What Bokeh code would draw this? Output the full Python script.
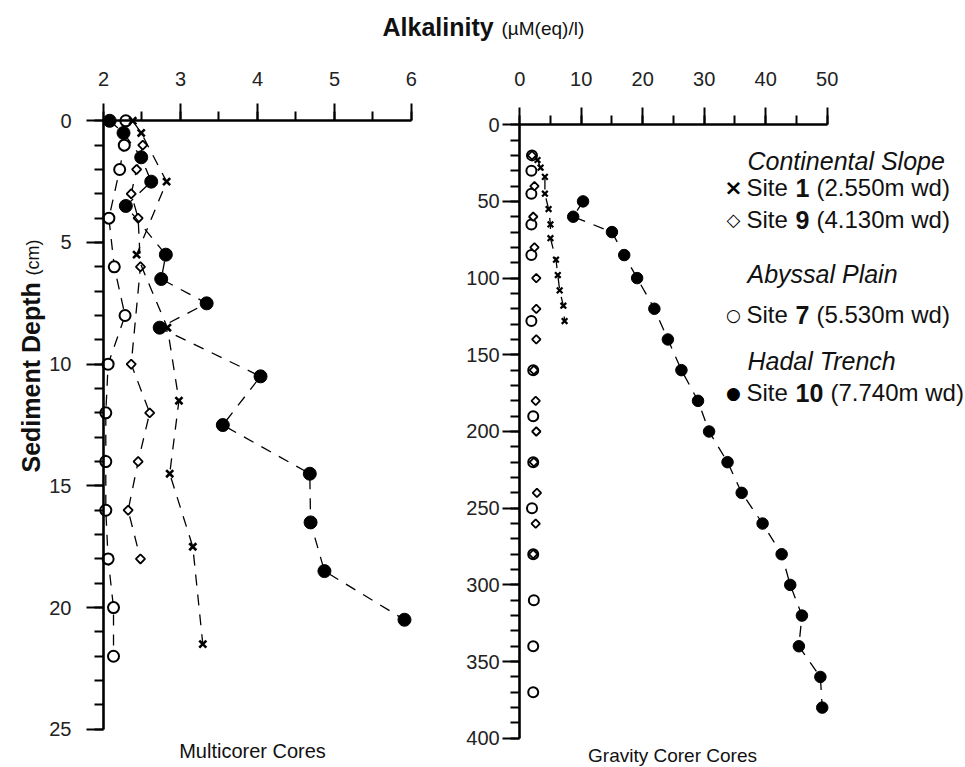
import math
from bokeh.plotting import figure
from bokeh.models import Range1d, Label, SingleIntervalTicker
from bokeh.layouts import column, row
from bokeh.embed import file_html
from bokeh.resources import INLINE

# ---------------- data: Multicorer cores (depth in cm, alkalinity) ----------------
mc_site1_depth = [0, 0.5, 2.5, 5.5, 8.5, 11.5, 14.5, 17.5, 21.5]
mc_site1_alk = [2.38, 2.49, 2.82, 2.43, 2.83, 2.98, 2.86, 3.16, 3.29]

mc_site9_depth = [1, 2, 3, 4, 6, 10, 12, 14, 16, 18]
mc_site9_alk = [2.51, 2.43, 2.36, 2.45, 2.48, 2.36, 2.60, 2.45, 2.32, 2.48]

mc_site7_depth = [0, 1, 2, 4, 6, 8, 10, 12, 14, 16, 18, 20, 22]
mc_site7_alk = [2.29, 2.27, 2.21, 2.07, 2.14, 2.28, 2.06, 2.03, 2.03, 2.03, 2.06, 2.13, 2.13]

mc_site10_depth = [0, 0.5, 1.5, 2.5, 3.5, 5.5, 6.5, 7.5, 8.5, 10.5, 12.5, 14.5, 16.5, 18.5, 20.5]
mc_site10_alk = [2.08, 2.26, 2.49, 2.62, 2.29, 2.81, 2.75, 3.34, 2.73, 4.04, 3.55, 4.68, 4.69, 4.87, 5.91]

# ---------------- data: Gravity corer cores (depth in cm, alkalinity) ----------------
gc_site1_depth = [23, 28, 34, 45, 55, 65, 74, 88, 98, 108, 118, 128]
gc_site1_alk = [2.9, 3.4, 4.1, 4.1, 4.7, 5.0, 5.0, 5.9, 6.2, 6.5, 7.1, 7.3]

gc_site9_depth = [20, 40, 60, 80, 100, 120, 140, 160, 180, 200, 220, 240, 260, 280]
gc_site9_alk = [2.0, 2.4, 2.2, 2.4, 2.7, 2.7, 2.7, 2.3, 2.6, 2.7, 2.3, 2.8, 2.6, 2.2]

gc_site7_depth = [20, 30, 45, 65, 85, 128, 160, 190, 220, 250, 280, 310, 340, 370]
gc_site7_alk = [2.0, 1.9, 1.9, 1.9, 1.9, 1.9, 2.2, 2.2, 2.2, 2.0, 2.2, 2.3, 2.2, 2.2]

gc_site10_depth = [50, 60, 70, 85, 100, 120, 140, 160, 180, 200, 220, 240, 260, 280, 300, 320, 340, 360, 380]
gc_site10_alk = [10.3, 8.7, 15.0, 17.0, 19.1, 21.9, 24.1, 26.3, 29.0, 30.8, 33.8, 36.1, 39.5, 42.6, 44.0, 45.9, 45.4, 48.9, 49.2]

# ---------------- texts ----------------
title_main = "Alkalinity"
title_unit = "(\u00b5M(eq)/l)"
ylabel_main = "Sediment Depth"
ylabel_unit = "(cm)"
left_caption = "Multicorer Cores"
right_caption = "Gravity Corer Cores"
legend_groups = [("Continental Slope", [("\u00d7", "1", "(2.550m wd)"), ("\u25c7", "9", "(4.130m wd)")]),
                 ("Abyssal Plain", [("\u25cb", "7", "(5.530m wd)")]),
                 ("Hadal Trench", [("\u25cf", "10", "(7.740m wd)")])]

FONT = "Liberation Sans"
INK = "#111111"


def style_axes(p, xb, yb, xt, yt, xstand, ystand):
    for ax in (p.xaxis[0], p.yaxis[0]):
        ax.axis_line_width = 2.6
        ax.axis_line_color = "black"
        ax.major_tick_line_width = 2
        ax.minor_tick_line_width = 2
        ax.major_tick_line_color = "black"
        ax.minor_tick_line_color = "black"
        ax.major_tick_in = 0
        ax.minor_tick_in = 0
        ax.major_tick_out = 17
        ax.minor_tick_out = 9
        ax.major_label_text_font = FONT
        ax.major_label_text_font_size = "20px"
        ax.major_label_text_color = "#222222"
    p.xaxis[0].ticker = xt
    p.yaxis[0].ticker = yt
    p.xaxis[0].bounds = xb
    p.yaxis[0].bounds = yb
    p.xaxis[0].fixed_location = yb[0]
    p.yaxis[0].fixed_location = xb[0]
    p.xaxis[0].major_label_standoff = xstand
    p.yaxis[0].major_label_standoff = ystand
    p.grid.visible = False
    p.outline_line_color = None


def series(p, x, y, marker, size, fill, lw, dashed=True):
    if dashed:
        p.line(x, y, line_color="black", line_width=1.3, line_dash="11 9")
    kw = dict(marker=marker, size=size, line_color="black", line_width=lw,
              fill_color=fill)
    if marker == "square":
        kw["angle"] = math.pi / 4
    p.scatter(x, y, **kw)


def text(p, x, y, s, size, style="normal", align="left", angle=0.0, font=FONT, color=INK):
    # (x, y) is the centre line of the capitals (text_baseline="middle")
    p.add_layout(Label(x=x, y=y, text=s, text_font=font, text_font_size=size,
                       text_font_style=style, text_align=align, text_baseline="middle",
                       angle=angle, text_color=color))


# ---------------- title strip ----------------
pt = figure(width=965, height=50, x_range=Range1d(0, 965), y_range=Range1d(50, 0),
            output_backend="svg", toolbar_location=None,
            x_axis_location=None, y_axis_location=None, min_border=0)
pt.outline_line_color = None
pt.grid.visible = False
text(pt, 382, 26, title_main, "25px", style="bold")
text(pt, 501, 28, title_unit, "19px")

# ---------------- left panel (Multicorer) ----------------
LX0, LPX = 0.662, 76.98          # x range start, px per unit
LY0, LPY = -2.888, 24.34         # y range top, px per unit
pl = figure(width=430, height=717,
            x_range=Range1d(LX0, LX0 + 430 / LPX), y_range=Range1d(LY0 + 717 / LPY, LY0),
            x_axis_location="above", output_backend="svg", toolbar_location=None,
            min_border=0)
style_axes(pl, (2, 6), (0, 25), SingleIntervalTicker(interval=1, num_minor_ticks=2),
           SingleIntervalTicker(interval=5, num_minor_ticks=5), 18, 15)

series(pl, mc_site7_alk, mc_site7_depth, "circle", 11, "white", 2)
series(pl, mc_site9_alk, mc_site9_depth, "square", 6.5, "white", 1.8)
series(pl, mc_site1_alk, mc_site1_depth, "x", 10, None, 2.6)
series(pl, mc_site10_alk, mc_site10_depth, "circle", 13, "black", 1)


def lsx(px):
    return LX0 + px / LPX


def lsy(py):
    return LY0 + (py - 50) / LPY


text(pl, lsx(30), lsy(472), ylabel_main, "25px", style="bold", angle=math.pi / 2)
text(pl, lsx(32), lsy(275), ylabel_unit, "18px", angle=math.pi / 2)
text(pl, lsx(252), lsy(750), left_caption, "20px", align="center")

# ---------------- right panel (Gravity corer) ----------------
RX0, RPX = -14.506, 6.149
RY0, RPY = -48.37, 1.534
pr = figure(width=535, height=717,
            x_range=Range1d(RX0, RX0 + 535 / RPX), y_range=Range1d(RY0 + 717 / RPY, RY0),
            x_axis_location="above", output_backend="svg", toolbar_location=None,
            min_border=0)
style_axes(pr, (0, 50), (0, 400), SingleIntervalTicker(interval=10, num_minor_ticks=2),
           SingleIntervalTicker(interval=50, num_minor_ticks=5), 22, 3)

series(pr, gc_site7_alk, gc_site7_depth, "circle", 10, "white", 2, dashed=False)
series(pr, gc_site9_alk, gc_site9_depth, "square", 6, "white", 1.8, dashed=False)
series(pr, gc_site1_alk, gc_site1_depth, "x", 8, None, 2.2)
series(pr, gc_site10_alk, gc_site10_depth, "circle", 11.5, "black", 1)


def rsx(px):
    return RX0 + (px - 430) / RPX


def rsy(py):
    return RY0 + (py - 50) / RPY


text(pr, rsx(672), rsy(755), right_caption, "19px", align="center")

sym_size = {"\u00d7": "22px", "\u25c7": "18px", "\u25cb": "17px", "\u25cf": "17px"}
head_mid = [160, 273, 360]
row_mid = [[187, 219], [314], [392]]
for (head, entries), hm, rms in zip(legend_groups, head_mid, row_mid):
    text(pr, rsx(747), rsy(hm), head, "25px", style="italic")
    for (sym, num, tail), rm in zip(entries, rms):
        text(pr, rsx(733), rsy(rm), sym, sym_size[sym], align="center",
             font="DejaVu Sans", color="black",
             style="bold" if sym == "\u00d7" else "normal")
        text(pr, rsx(746), rsy(rm), "Site", "24px")
        text(pr, rsx(795), rsy(rm), num, "25px", style="bold")
        text(pr, rsx(816 if len(num) == 1 else 830), rsy(rm), tail, "24px")

layout = column(pt, row(pl, pr, spacing=0), spacing=0)
open("out.html", "w").write(file_html(layout, INLINE))
